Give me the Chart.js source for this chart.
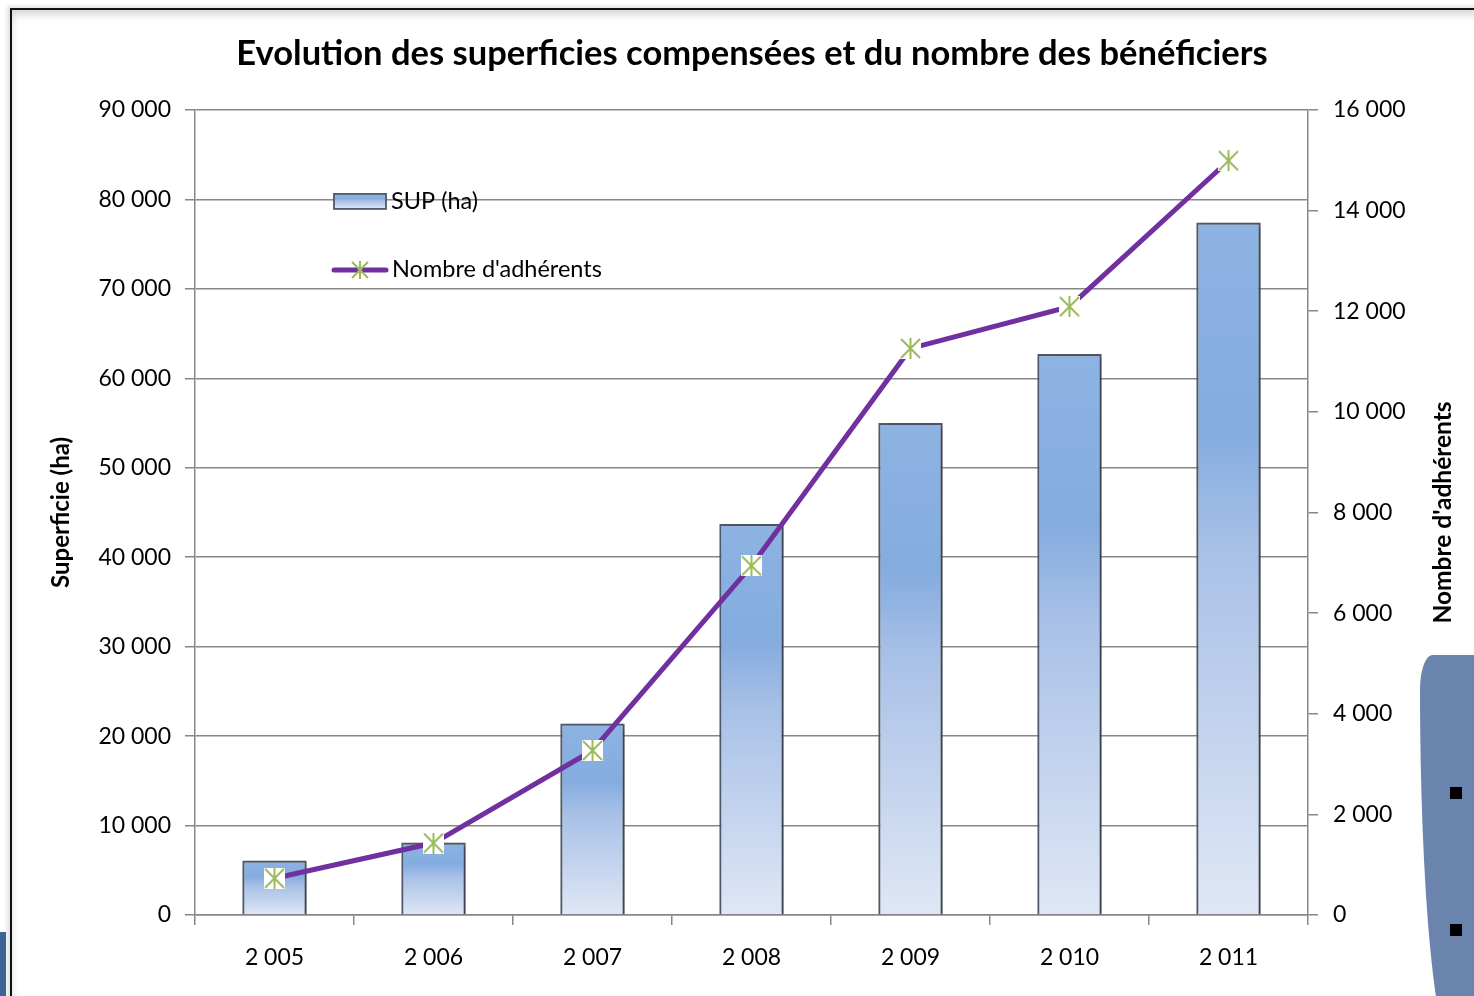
<!DOCTYPE html>
<html>
<head>
<meta charset="utf-8">
<script src="https://cdn.jsdelivr.net/npm/chart.js@4.4.1/dist/chart.umd.min.js"></script>
<style>
  html, body { margin: 0; padding: 0; background: #fff; width: 1474px; height: 996px; overflow: hidden; }
  #frame { position: absolute; left: 10px; top: 8px; width: 1500px; height: 1100px;
    border-top: 2px solid #111; border-left: 2px solid #111;
    box-shadow: inset 3px 8px 10px -4px rgba(0,0,0,0.18), -3px -2px 4px rgba(0,0,0,0.12); }
  #bl { position: absolute; left: 0; top: 932px; width: 6px; height: 64px; background: #3d6497; }
  #panel { position: absolute; left: 1420px; top: 655px; width: 120px; height: 400px; background: #6b84ad;
    border-top-left-radius: 14px 40px; border-bottom-left-radius: 40px 420px; z-index: 3; }
  .sq { position: absolute; width: 12px; height: 12px; background: #000; z-index: 4; }
  #c { position: absolute; left: 0; top: 0; z-index: 2; }
</style>
</head>
<body>
<div id="frame"></div>
<div id="bl"></div>
<div id="panel"></div>
<div class="sq" style="left:1450px;top:787px"></div>
<div class="sq" style="left:1450px;top:924px"></div>
<canvas id="c" width="1474" height="996"></canvas>
<script>
const categories = ["2 005", "2 006", "2 007", "2 008", "2 009", "2 010", "2 011"];
const supValues = [6100, 8100, 21400, 43700, 55000, 62700, 77400];
const adherentsValues = [730, 1430, 3270, 6940, 11260, 12090, 14990];
const seriesLabels = ["SUP (ha)", "Nombre d'adhérents"];
const titleText = "Evolution des superficies compensées et du nombre des bénéficiers";
const leftAxisTitle = "Superficie (ha)";
const rightAxisTitle = "Nombre d'adhérents";

const FONT = "Lato, 'Open Sans', sans-serif";
const GRID = "#878787";
const GREEN = "#9bbb59";
const PURPLE = "#7030a0";

function fmt(v) {
  return String(Math.round(v)).replace(/\B(?=(\d{3})+(?!\d))/g, " ");
}

function makeMarker(size, withBg) {
  const c = document.createElement("canvas");
  c.width = size; c.height = size;
  const g = c.getContext("2d");
  if (withBg) { g.fillStyle = "#fff"; g.fillRect(0, 0, size, size); }
  g.strokeStyle = GREEN; g.lineWidth = 2;
  g.beginPath();
  g.moveTo(1, 1); g.lineTo(size - 1, size - 1);
  g.moveTo(size - 1, 1); g.lineTo(1, size - 1);
  g.moveTo(size / 2, 0); g.lineTo(size / 2, size);
  g.stroke();
  return c;
}
const marker = makeMarker(21, true);
const legendMarker = makeMarker(18, false);

function barGradient(ctx, top, base) {
  const gr = ctx.createLinearGradient(0, top, 0, base);
  gr.addColorStop(0, "#8db3e2");
  gr.addColorStop(0.3, "#84acdf");
  gr.addColorStop(0.48, "#a9c1e7");
  gr.addColorStop(1, "#dfe7f5");
  return gr;
}

const shadowPlugin = {
  id: "barShadow",
  beforeDatasetDraw(chart, args) {
    if (args.index === 0) {
      const ctx = chart.ctx;
      ctx.save();
      ctx.shadowColor = "rgba(0,0,0,0.35)";
      ctx.shadowBlur = 6;
      ctx.shadowOffsetX = 3;
      ctx.shadowOffsetY = 2;
    }
  },
  afterDatasetDraw(chart, args) {
    if (args.index === 0) chart.ctx.restore();
  }
};

const legendPlugin = {
  id: "customLegend",
  afterDatasetsDraw(chart) {
    const ctx = chart.ctx;
    const a = chart.chartArea;
    const x0 = a.left + 139;
    const y1 = a.top + 91;
    const y2 = a.top + 160;
    ctx.save();
    ctx.fillStyle = barGradient(ctx, y1 - 7, y1 + 8);
    ctx.fillRect(x0, y1 - 7, 52, 15);
    ctx.strokeStyle = "#4f5a6a";
    ctx.lineWidth = 1.8;
    ctx.strokeRect(x0, y1 - 7, 52, 15);
    ctx.font = "23.5px " + FONT;
    ctx.fillStyle = "#000";
    ctx.textBaseline = "middle";
    ctx.fillText(chart.data.datasets[0].label, x0 + 57, y1 + 1);
    ctx.strokeStyle = PURPLE;
    ctx.lineWidth = 5;
    ctx.lineCap = "round";
    ctx.beginPath();
    ctx.moveTo(x0, y2); ctx.lineTo(x0 + 52, y2);
    ctx.stroke();
    ctx.drawImage(legendMarker, x0 + 26 - 9, y2 - 9);
    ctx.fillText(chart.data.datasets[1].label, x0 + 58, y2);
    ctx.restore();
  }
};

const rightTitlePlugin = {
  id: "rightTitle",
  afterDraw(chart) {
    const ctx = chart.ctx;
    const a = chart.chartArea;
    ctx.save();
    ctx.translate(1443, (a.top + a.bottom) / 2);
    ctx.rotate(-Math.PI / 2);
    ctx.font = "bold 24.5px " + FONT;
    ctx.fillStyle = "#000";
    ctx.textAlign = "center";
    ctx.textBaseline = "middle";
    ctx.fillText(rightAxisTitle, 0, 0);
    ctx.restore();
  }
};

new Chart(document.getElementById("c"), {
  data: {
    labels: categories,
    datasets: [
      {
        type: "bar",
        label: seriesLabels[0],
        data: supValues,
        yAxisID: "y",
        order: 1,
        backgroundColor(context) {
          const chart = context.chart;
          const s = chart.scales.y;
          if (!s || !chart.chartArea || context.raw === undefined) return "#8db3e2";
          const top = s.getPixelForValue(context.raw);
          const base = s.getPixelForValue(0);
          return barGradient(chart.ctx, top, base);
        },
        borderColor: "#4f5a6a",
        borderWidth: 2.2,
        categoryPercentage: 1,
        barPercentage: 0.405
      },
      {
        type: "line",
        label: seriesLabels[1],
        data: adherentsValues,
        yAxisID: "y1",
        order: 0,
        borderColor: PURPLE,
        borderWidth: 5,
        pointStyle: marker,
        pointRadius: 10,
        pointHoverRadius: 10,
        tension: 0
      }
    ]
  },
  options: {
    responsive: false,
    animation: false,
    events: [],
    layout: { padding: { left: 40, right: 10, top: 0, bottom: 0 } },
    plugins: {
      legend: { display: false },
      tooltip: { enabled: false },
      title: {
        display: true,
        text: titleText,
        color: "#000",
        font: { family: FONT, size: 34.5, weight: "bold" },
        padding: { top: 33, bottom: 35.5 }
      }
    },
    scales: {
      x: {
        type: "category",
        grid: { display: true, drawOnChartArea: false, drawTicks: true, tickLength: 10, offset: true, color: GRID, lineWidth: 1.5 },
        border: { color: GRID, width: 1.5 },
        ticks: { color: "#000", font: { family: FONT, size: 23 }, padding: 19, maxRotation: 0 },
        afterFit(scale) { scale.height = 81; }
      },
      y: {
        type: "linear",
        position: "left",
        min: 0, max: 90000,
        ticks: { stepSize: 10000, color: "#000", font: { family: FONT, size: 23 }, padding: 14, callback: v => fmt(v) },
        grid: { color: GRID, lineWidth: 1.5, tickLength: 10 },
        border: { color: GRID, width: 1.5 },
        title: { display: true, text: leftAxisTitle, color: "#000", font: { family: FONT, size: 24, weight: "bold" }, padding: { top: 7, bottom: 0 } },
        afterFit(scale) { scale.width = 155; }
      },
      y1: {
        type: "linear",
        position: "right",
        min: 0, max: 16000,
        ticks: { stepSize: 2000, color: "#000", font: { family: FONT, size: 23 }, padding: 15, callback: v => fmt(v) },
        grid: { drawOnChartArea: false, color: GRID, lineWidth: 1.5, tickLength: 10 },
        border: { color: GRID, width: 1.5 },
        title: { display: false },
        afterFit(scale) { scale.width = 156; }
      }
    }
  },
  plugins: [shadowPlugin, legendPlugin, rightTitlePlugin]
});
</script>
</body>
</html>
